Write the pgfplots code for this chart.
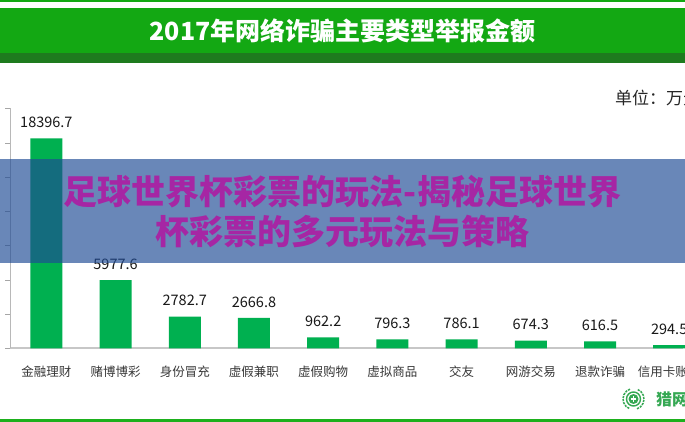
\documentclass[border=0pt]{standalone}
\usepackage{fontspec}
\setmainfont{Noto Sans CJK SC}
\usepackage{pgfplots}
\pgfplotsset{compat=1.18}
\definecolor{tgreen}{RGB}{19,168,19}
\definecolor{dgreen}{RGB}{30,123,30}
\definecolor{barg}{RGB}{0,176,80}
\definecolor{ovblue}{RGB}{31,75,149}
\definecolor{ovtext}{RGB}{166,38,164}
\definecolor{logog}{RGB}{53,168,83}
\definecolor{botg}{RGB}{29,176,29}
\begin{document}
\begin{tikzpicture}[x=1pt,y=1pt]
\path[use as bounding box] (0,0) rectangle (685,422);
\clip (0,0) rectangle (685,422);
\fill[white] (0,0) rectangle (685,422);
\fill[tgreen] (0,419.8) rectangle (685,422);
\fill[tgreen] (0,368.7) rectangle (685,413.7);
\fill[dgreen] (0,359.3) rectangle (685,368.7);
\node[text=white, font=\fontsize{25}{29}\selectfont\bfseries] at (342.5,391) {2017年网络诈骗主要类型举报金额};
\node[anchor=west, font=\fontsize{17}{20}\selectfont, text=black!85, inner sep=0pt] at (615,324) {单位：万元};

\begin{axis}[
  at={(15,64.5)}, anchor=south west,
  scale only axis, width=673pt, height=240pt,
  xmin=-0.5202, xmax=9.205, ymin=0, ymax=21030,
  clip=false,
  axis lines=left,
  axis line style={-},
  x axis line style={draw=black!22, line width=1.8pt},
  y axis line style={draw=black!28, line width=0.7pt},
  scaled y ticks=false,
  ytick={0,3000,...,21000}, yticklabels={},
  tick align=outside, major tick length=5pt,
  ytick style={draw=black!35, line width=0.6pt},
  xtick={0,...,9}, xtick style={draw=none},
  xticklabels={金融理财,赌博博彩,身份冒充,虚假兼职,虚假购物,虚拟商品,交友,网游交易,退款诈骗,信用卡账单},
  xticklabel style={font=\fontsize{12.5}{14}\selectfont, text=black!78, anchor=center, yshift=-18.5pt},
  ybar, bar width=32pt,
  nodes near coords={\pgfplotspointmeta},
  point meta=explicit symbolic,
  every node near coord/.append style={font=\fontsize{14.5}{16}\selectfont, text=black!90, inner sep=0pt, yshift=10.5pt},
]
\addplot[fill=barg, draw=none] coordinates {
(0,18396.7) [18396.7]
(1,5977.6) [5977.6]
(2,2782.7) [2782.7]
(3,2666.8) [2666.8]
(4,962.2) [962.2]
(5,796.3) [796.3]
(6,786.1) [786.1]
(7,674.3) [674.3]
(8,616.5) [616.5]
(9,294.5) [294.5]
};
\end{axis}

\fill[ovblue, opacity=0.667] (0,159.3) rectangle (685,262.7);
\node[text=ovtext, font=\fontsize{34}{40}\selectfont\bfseries, align=center] at (342.5,210) {足球世界杯彩票的玩法-揭秘足球世界\\杯彩票的多元玩法与策略};

\draw[logog, line width=1.5pt, dash pattern=on 2.2pt off 1pt] (633.5,23) ++(110:10.5pt) arc[start angle=110, end angle=250, radius=10.5pt];
\draw[logog, line width=1.5pt, dash pattern=on 2.2pt off 1pt] (633.5,23) ++(-70:10.5pt) arc[start angle=-70, end angle=70, radius=10.5pt];
\draw[logog, line width=1.4pt] (633.5,23) circle[radius=7pt];
\fill[logog] (633.5,23) circle[radius=5pt];
\draw[white, line width=1.5pt] (630.6,23) -- (636.4,23) (633.5,20.1) -- (633.5,25.9);
\node[anchor=west, text=logog, font=\fontsize{16}{18}\selectfont\bfseries, inner sep=0pt] at (656,23) {猎网平台};
\fill[botg] (0,0) rectangle (685,3);
\end{tikzpicture}
\end{document}
